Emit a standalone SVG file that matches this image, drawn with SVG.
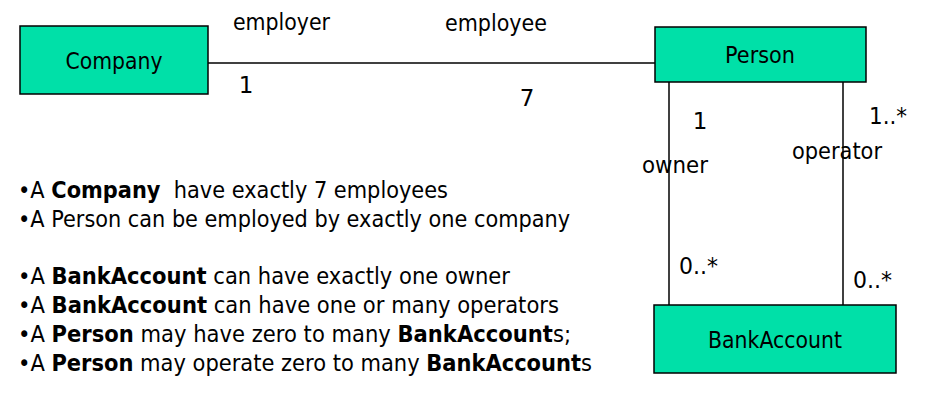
<svg xmlns="http://www.w3.org/2000/svg" width="938" height="410" viewBox="0 0 938 410">
<style>
text{font-family:"DejaVu Sans","Liberation Sans",sans-serif;font-size:23px;fill:#000}
.node{fill:#00E0A8;stroke:#000;stroke-width:1.5}
.conn{stroke:#000;stroke-width:1.5;fill:none}
.b{font-weight:bold}
</style>
<rect width="938" height="410" fill="#fff"/>
<g id="connectors">
<line class="conn" x1="208" y1="63" x2="655" y2="63"/>
<line class="conn" x1="669" y1="82" x2="669" y2="305"/>
<line class="conn" x1="843" y1="82" x2="843" y2="305"/>
</g>
<g id="company">
<rect class="node" x="20" y="26" width="188" height="68"/>
<text x="114" y="69" text-anchor="middle" textLength="97" lengthAdjust="spacingAndGlyphs">Company</text>
</g>
<g id="person">
<rect class="node" x="655" y="27" width="211" height="55"/>
<text x="760" y="63" text-anchor="middle" textLength="70" lengthAdjust="spacingAndGlyphs">Person</text>
</g>
<g id="bankaccount">
<rect class="node" x="654" y="305" width="242" height="68"/>
<text x="775" y="348" text-anchor="middle" textLength="134" lengthAdjust="spacingAndGlyphs">BankAccount</text>
</g>
<g id="labels">
<text x="233" y="30" textLength="97" lengthAdjust="spacingAndGlyphs">employer</text>
<text x="445" y="31" textLength="102" lengthAdjust="spacingAndGlyphs">employee</text>
<text x="246" y="93" text-anchor="middle">1</text>
<text x="527" y="106" text-anchor="middle">7</text>
<text x="700" y="129" text-anchor="middle">1</text>
<text x="869" y="124" textLength="38" lengthAdjust="spacingAndGlyphs">1..*</text>
<text x="642" y="173" textLength="66" lengthAdjust="spacingAndGlyphs">owner</text>
<text x="792" y="159" textLength="90" lengthAdjust="spacingAndGlyphs">operator</text>
<text x="679" y="274" textLength="39" lengthAdjust="spacingAndGlyphs">0..*</text>
<text x="853" y="288" textLength="39" lengthAdjust="spacingAndGlyphs">0..*</text>
</g>
<g id="notes">
<text x="18" y="198" textLength="430" lengthAdjust="spacingAndGlyphs">•A <tspan class="b">Company</tspan>&#160; have exactly 7 employees</text>
<text x="18" y="227" textLength="552" lengthAdjust="spacingAndGlyphs">•A Person can be employed by exactly one company</text>
<text x="18" y="284" textLength="492" lengthAdjust="spacingAndGlyphs">•A <tspan class="b">BankAccount</tspan> can have exactly one owner</text>
<text x="18" y="313" textLength="541" lengthAdjust="spacingAndGlyphs">•A <tspan class="b">BankAccount</tspan> can have one or many operators</text>
<text x="18" y="342" textLength="553" lengthAdjust="spacingAndGlyphs">•A <tspan class="b">Person</tspan> may have zero to many <tspan class="b">BankAccount</tspan>s;</text>
<text x="18" y="371" textLength="574" lengthAdjust="spacingAndGlyphs">•A <tspan class="b">Person</tspan> may operate zero to many <tspan class="b">BankAccount</tspan>s</text>
</g>
</svg>
